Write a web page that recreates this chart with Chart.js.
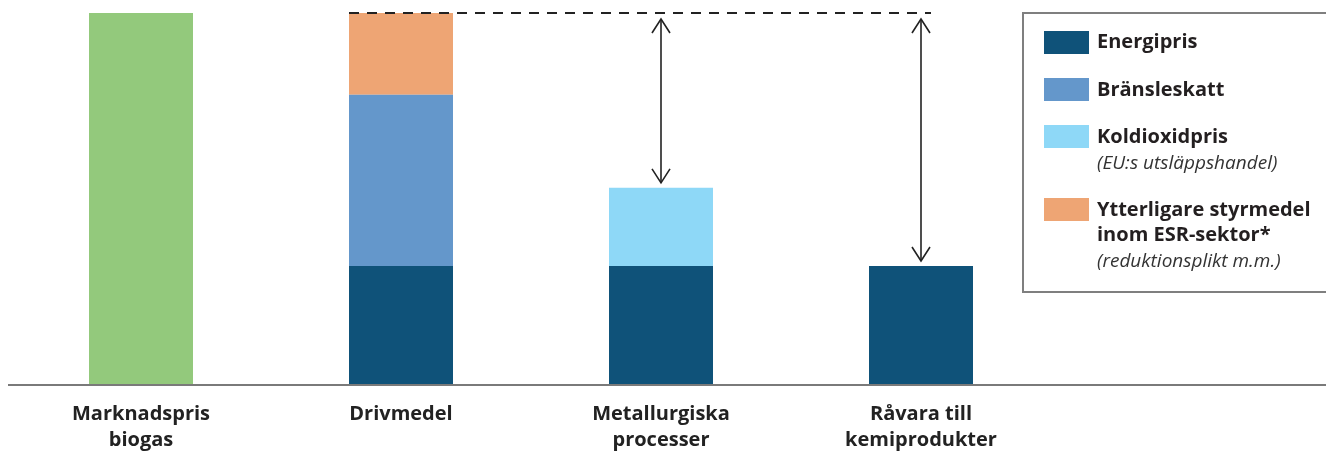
<!DOCTYPE html>
<html>
<head>
<meta charset="utf-8">
<script src="https://cdn.jsdelivr.net/npm/chart.js@4.4.1/dist/chart.umd.min.js"></script>
<style>
  html, body { margin: 0; padding: 0; background: #ffffff; }
  body { width: 1326px; height: 459px; position: relative; overflow: hidden; font-family: "Open Sans", sans-serif; }
  #c { position: absolute; left: 0; top: 0; }
  .lgbox { position: absolute; left: 1022px; top: 12px; width: 310px; height: 281px; border: 2px solid #7f7f7f; box-sizing: border-box; }
  .sw { position: absolute; left: 1044px; width: 45px; height: 23px; }
  .lt { position: absolute; left: 1097px; white-space: nowrap; color: #231f20; line-height: 24px; }
  .b { font-weight: 700; font-size: 20px; }
  .i { font-style: italic; font-size: 19px; color: #333333; }
</style>
</head>
<body>
<canvas id="c" width="1326" height="459"></canvas>
<div class="lgbox"></div>
<div id="legend"></div>
<script>
// ---- Data ----
const categories = [["Marknadspris", "biogas"], ["Drivmedel"], ["Metallurgiska", "processer"], ["Råvara till", "kemiprodukter"]];
const biogasPrice   = [100, null, null, null];
const energipris    = [null, 32, 32, 32];
const bransleskatt  = [null, 46, null, null];
const koldioxidpris = [null, null, 21, null];
const ytterligare   = [null, 22, null, null];

const legendItems = [
  { color: "#0f5279", lines: [{ t: "Energipris", cls: "b", top: 29 }] },
  { color: "#6497cb", lines: [{ t: "Bränsleskatt", cls: "b", top: 77 }] },
  { color: "#8ed8f7", lines: [{ t: "Koldioxidpris", cls: "b", top: 124 }, { t: "(EU:s utsläppshandel)", cls: "i", top: 150 }] },
  { color: "#eea574", lines: [{ t: "Ytterligare styrmedel", cls: "b", top: 197 }, { t: "inom ESR-sektor*", cls: "b", top: 222 }, { t: "(reduktionsplikt m.m.)", cls: "i", top: 248 }] }
];
const swatchTops = [31, 78, 125, 198];

// ---- HTML legend ----
const lg = document.getElementById("legend");
legendItems.forEach((it, k) => {
  const s = document.createElement("div");
  s.className = "sw";
  s.style.top = swatchTops[k] + "px";
  s.style.background = it.color;
  lg.appendChild(s);
  it.lines.forEach(l => {
    const d = document.createElement("div");
    d.className = "lt " + l.cls;
    d.style.top = l.top + "px";
    d.textContent = l.t;
    lg.appendChild(d);
  });
});

// ---- Annotation plugin (axis line, dashed reference, arrows) ----
const annot = {
  id: "annot",
  afterDatasetsDraw(chart) {
    const ctx = chart.ctx;
    const xs = chart.scales.x, ys = chart.scales.y;
    const y0 = ys.getPixelForValue(0);
    const driveTotal = energipris[1] + bransleskatt[1] + ytterligare[1];
    const yTop = ys.getPixelForValue(driveTotal);
    const driveMeta = chart.getDatasetMeta(1).data[1];
    const xLeft = driveMeta.x - driveMeta.width / 2;
    const xMet = xs.getPixelForValue(2);
    const xRaw = xs.getPixelForValue(3);
    const metTop = ys.getPixelForValue(energipris[2] + koldioxidpris[2]);
    const rawTop = ys.getPixelForValue(energipris[3]);

    ctx.save();
    // axis line
    ctx.strokeStyle = "#7a7a7a";
    ctx.lineWidth = 2;
    ctx.beginPath();
    ctx.moveTo(8, y0);
    ctx.lineTo(chart.width, y0);
    ctx.stroke();

    // dashed line
    ctx.strokeStyle = "#222222";
    ctx.lineWidth = 1.8;
    ctx.setLineDash([10, 8]);
    ctx.beginPath();
    ctx.moveTo(xLeft, yTop);
    ctx.lineTo(xRaw + 10, yTop);
    ctx.stroke();
    ctx.setLineDash([]);

    // arrows
    function arrow(x, y1, y2) {
      ctx.lineWidth = 1.6;
      ctx.strokeStyle = "#222222";
      ctx.beginPath();
      ctx.moveTo(x, y1); ctx.lineTo(x, y2);
      ctx.stroke();
      ctx.beginPath();
      ctx.moveTo(x - 9, y1 + 14); ctx.lineTo(x, y1); ctx.lineTo(x + 9, y1 + 14);
      ctx.stroke();
      ctx.beginPath();
      ctx.moveTo(x - 9, y2 - 14); ctx.lineTo(x, y2); ctx.lineTo(x + 9, y2 - 14);
      ctx.stroke();
    }
    arrow(xMet, yTop + 6, metTop - 5);
    arrow(xRaw, yTop + 6, rawTop - 5);
    ctx.restore();
  }
};

new Chart(document.getElementById("c"), {
  type: "bar",
  data: {
    labels: categories,
    datasets: [
      { label: "Marknadspris biogas", data: biogasPrice, backgroundColor: "#93c97c" },
      { label: "Energipris", data: energipris, backgroundColor: "#0f5279" },
      { label: "Bränsleskatt", data: bransleskatt, backgroundColor: "#6497cb" },
      { label: "Koldioxidpris", data: koldioxidpris, backgroundColor: "#8ed8f7" },
      { label: "Ytterligare styrmedel", data: ytterligare, backgroundColor: "#eea574" }
    ]
  },
  options: {
    responsive: false,
    animation: false,
    devicePixelRatio: 1,
    layout: { padding: { left: 11, right: 275, top: 13, bottom: -10 } },
    datasets: { bar: { barPercentage: 0.4, categoryPercentage: 1, borderWidth: 0 } },
    plugins: { legend: { display: false }, tooltip: { enabled: false } },
    scales: {
      x: {
        stacked: true,
        offset: true,
        grid: { display: false, drawTicks: false },
        border: { display: false },
        ticks: {
          maxRotation: 0, minRotation: 0, autoSkip: false,
          padding: 16,
          color: "#222222",
          font: { family: "Open Sans", weight: "bold", size: 20, lineHeight: 1.3 }
        }
      },
      y: {
        stacked: true,
        display: false,
        min: 0, max: 100
      }
    }
  },
  plugins: [annot]
});
</script>
</body>
</html>
